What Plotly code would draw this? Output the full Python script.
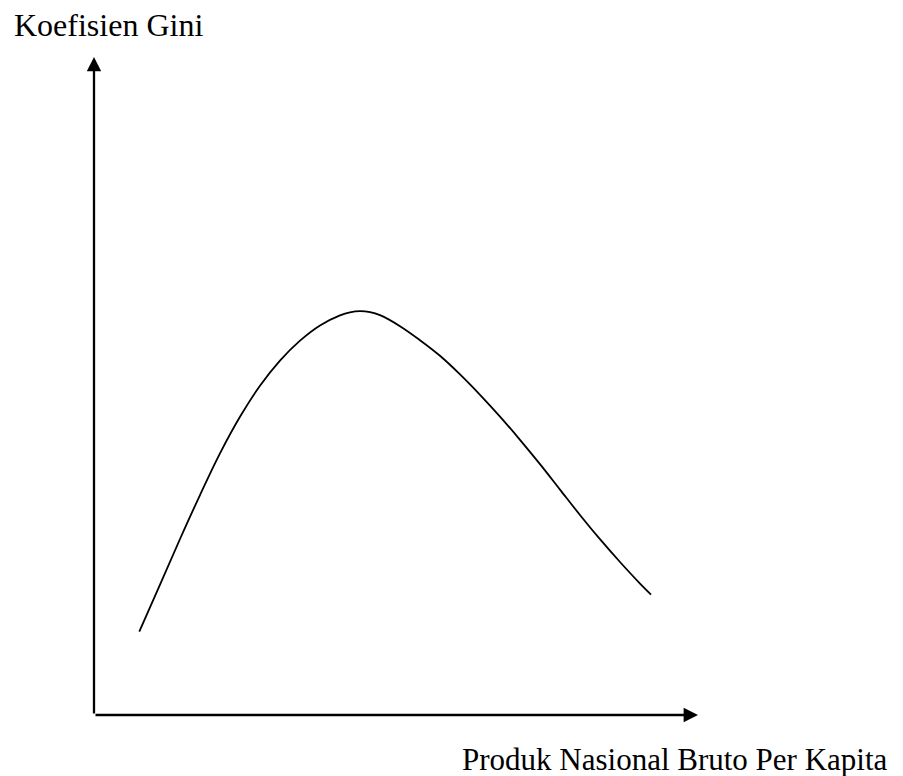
import plotly.graph_objects as go

# Kuznets curve: Gini coefficient vs GNP per capita (arbitrary units)
gnp_per_capita = [7.50, 10.93, 14.24, 17.55, 20.86, 24.17, 27.48, 30.79, 34.11, 37.42, 40.73,
                  42.38, 44.04, 45.70, 47.35, 50.66, 53.97, 57.28, 60.60, 63.91, 67.22,
                  70.53, 73.84, 77.15, 80.46, 83.77, 87.09, 90.40, 92.22]
gini = [12.66, 19.83, 26.75, 33.43, 39.76, 45.32, 50.03, 53.86, 56.90, 59.21, 60.73,
        61.19, 61.37, 61.22, 60.76, 59.09, 56.96, 54.59, 51.76, 48.66, 45.35,
        41.82, 38.12, 34.26, 30.40, 26.72, 23.25, 19.97, 18.30]

x_label = "Produk Nasional Bruto Per Kapita"
y_label = "Koefisien Gini"
axis_max = 100

W, H = 903, 776
FONT = "Liberation Serif, Times New Roman, serif"

fig = go.Figure()
fig.add_trace(go.Scatter(
    x=gnp_per_capita, y=gini, mode="lines",
    line=dict(color="black", width=1.8, shape="spline", smoothing=1.0),
    hoverinfo="skip", showlegend=False,
))

# axes drawn as arrows
for tip in [(0, axis_max), (axis_max, 0)]:
    fig.add_annotation(x=tip[0], y=tip[1], ax=0, ay=0, xref="x", yref="y", axref="x", ayref="y",
                       text="", showarrow=True, arrowhead=2, arrowwidth=2.3, arrowsize=1.25,
                       arrowcolor="black")

fig.add_annotation(x=12 / W, y=1 - 25 / H, xref="paper", yref="paper", text=y_label,
                   showarrow=False, xanchor="left", yanchor="middle",
                   font=dict(family=FONT, size=32, color="black"))
fig.add_annotation(x=460 / W, y=1 - 759 / H, xref="paper", yref="paper", text=x_label,
                   showarrow=False, xanchor="left", yanchor="middle",
                   font=dict(family=FONT, size=31, color="black"))

sx, sy = 6.04, 6.58
ox, oy = 94, 715
fig.update_layout(
    width=W, height=H,
    margin=dict(l=0, r=0, t=0, b=0),
    paper_bgcolor="white", plot_bgcolor="white",
    xaxis=dict(range=[-ox / sx, (W - ox) / sx], visible=False, fixedrange=True),
    yaxis=dict(range=[(oy - H) / sy, oy / sy], visible=False, fixedrange=True),
)

fig.write_html("out.html", config={"displayModeBar": False},
               post_script="document.body.style.margin='0';document.body.style.overflow='hidden';")
